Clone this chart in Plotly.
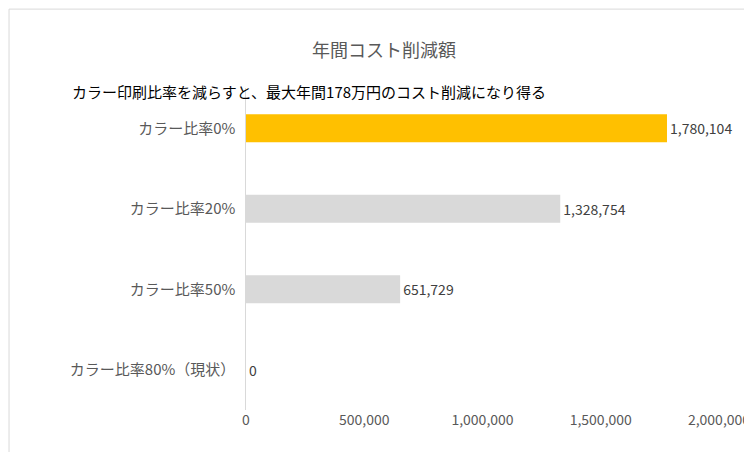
import plotly.graph_objects as go

categories = ["カラー比率0%", "カラー比率20%", "カラー比率50%", "カラー比率80%（現状）"]
savings = [1780104, 1328754, 651729, 0]
bar_colors = ["#FFC000", "#D9D9D9", "#D9D9D9", "#D9D9D9"]
x_ticks = [0, 500000, 1000000, 1500000, 2000000]

font = "Noto Sans CJK JP, Noto Sans, sans-serif"

fig = go.Figure(go.Bar(
    y=categories, x=savings, orientation="h",
    marker=dict(color=bar_colors, line=dict(width=0)),
    width=0.35,
    text=[f"{v:,}" for v in savings], textposition="outside",
    textfont=dict(size=14, color="#404040"),
    cliponaxis=False,
))

fig.update_layout(
    width=752, height=452,
    margin=dict(l=238, r=41, t=80, b=50, autoexpand=False),
    paper_bgcolor="white", plot_bgcolor="white",
    font=dict(family=font, color="#595959", size=14),
    title=dict(text="年間コスト削減額", x=0.5, xanchor="center", y=0.92,
               font=dict(size=18, color="#595959")),
    showlegend=False,
    annotations=[dict(
        text="カラー印刷比率を減らすと、最大年間178万円のコスト削減になり得る",
        xref="paper", yref="paper", x=-0.372, y=0.99, xanchor="left", yanchor="middle",
        showarrow=False, font=dict(size=15, color="black"),
    )],
    shapes=[dict(type="rect", xref="paper", yref="paper", x0=-0.501, x1=1.085, y0=-0.153, y1=1.245,
                 line=dict(color="#D9D9D9", width=1))],
)
fig.update_xaxes(range=[0, 2000000], tickvals=x_ticks, tickformat=",d", automargin=False,
                 showgrid=False, zeroline=False, showline=False,
                 tickfont=dict(size=14, color="#595959"))
fig.update_yaxes(autorange="reversed", showgrid=False, showline=True, linecolor="#D9D9D9",
                 automargin=False, ticks="", ticksuffix="  ", tickfont=dict(size=15, color="#595959"))

fig.write_html("out.html")
